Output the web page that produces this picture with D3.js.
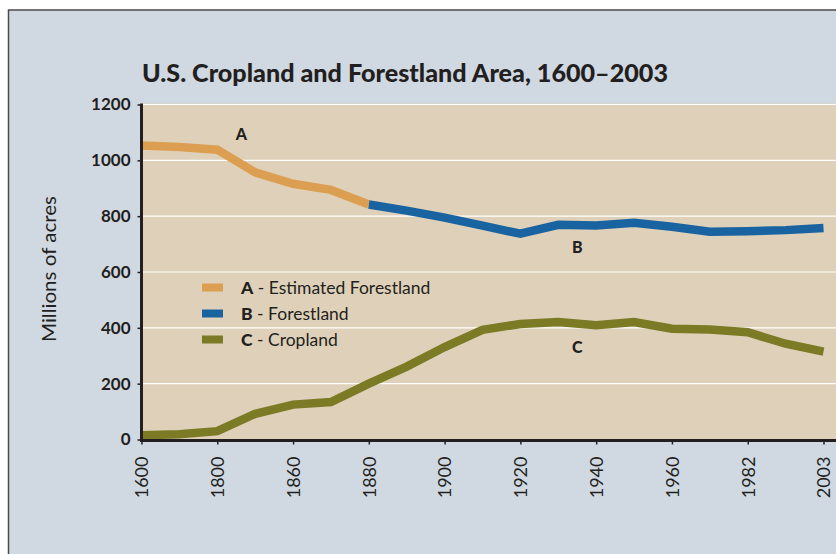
<!DOCTYPE html>
<html>
<head>
<meta charset="utf-8">
<script src="https://cdn.jsdelivr.net/npm/d3@7"></script>
<style>
  html, body { margin: 0; padding: 0; background: #ffffff; }
  svg { display: block; }
  text { font-family: Lato, "Open Sans", sans-serif; }
</style>
</head>
<body>
<svg id="chart" width="836" height="554"></svg>
<script>
// ---- data ----
const categories = ["1600","1700","1800","1850","1860","1870","1880","1890","1900","1910",
                    "1920","1930","1940","1950","1960","1970","1982","1992","2003"];
const tickLabels = ["1600","1800","1860","1880","1900","1920","1940","1960","1982","2003"];
const estimatedForestland = [1053, 1048, 1038, 957, 916, 894, 842];        // 1600–1880
const forestland = [842, 820, 795, 766, 737, 769, 767, 776, 762, 744, 746, 750, 758]; // 1880–2003
const cropland = [15, 19, 30, 92, 125, 134, 200, 261, 331, 393, 414, 421, 409, 421, 397, 394, 384, 343, 315];
const yTicks = [0, 200, 400, 600, 800, 1000, 1200];

const seriesInfo = [
  { key: "A", name: "Estimated Forestland", color: "#dc9f52" },
  { key: "B", name: "Forestland", color: "#1a63a1" },
  { key: "C", name: "Cropland", color: "#7b7a25" }
];

const svg = d3.select("#chart");
const W = 836, H = 554;

// outer panel
svg.append("rect").attr("x", 8.5).attr("y", 10).attr("width", W).attr("height", H)
  .attr("fill", "#d0d9e2").attr("stroke", "#4a4a4a").attr("stroke-width", 1.5);

const x0 = 141.5, x1 = 823.5, yTop = 103.5, y0 = 439.5;
const x = d3.scalePoint().domain(categories).range([x0, x1]);
const y = d3.scaleLinear().domain([0, 1200]).range([y0, 104.5]);

// plot background
svg.append("rect").attr("x", x0).attr("y", yTop).attr("width", W - x0).attr("height", y0 - yTop)
  .attr("fill", "#dfd1b9");

// gridlines
svg.append("g").selectAll("line").data(yTicks.filter(d => d > 0)).join("line")
  .attr("x1", x0).attr("x2", W).attr("y1", d => y(d)).attr("y2", d => y(d))
  .attr("stroke", "#ffffff").attr("stroke-width", 1.2);

// title
svg.append("text").attr("x", 142).attr("y", 82)
  .attr("font-size", 25).attr("font-weight", 900).attr("fill", "#231f20")
  .attr("textLength", 526).attr("lengthAdjust", "spacingAndGlyphs")
  .text("U.S. Cropland and Forestland Area, 1600–2003");

// y axis label
svg.append("text").attr("transform", "translate(56,269) rotate(-90)")
  .attr("text-anchor", "middle").attr("font-size", 20).attr("fill", "#231f20")
  .attr("textLength", 146).attr("lengthAdjust", "spacingAndGlyphs")
  .text("Millions of acres");

// lines
const line = d3.line().x(d => x(d.c)).y(d => y(d.v));
const estData = estimatedForestland.map((v, i) => ({ c: categories[i], v }));
const forData = forestland.map((v, i) => ({ c: categories[i + 6], v }));
const cropData = cropland.map((v, i) => ({ c: categories[i], v }));

[[cropData, seriesInfo[2].color], [estData, seriesInfo[0].color], [forData, seriesInfo[1].color]]
  .forEach(([d, col]) => {
    svg.append("path").datum(d).attr("d", line).attr("fill", "none")
      .attr("stroke", col).attr("stroke-width", 8.5).attr("stroke-linejoin", "miter");
  });

// axes
const yAxis = d3.axisLeft(y).tickValues(yTicks).tickFormat(d3.format("d")).tickSize(4).tickPadding(7);
const gy = svg.append("g").attr("transform", `translate(${x0},0)`).call(yAxis);
gy.select(".domain").attr("stroke", "#231f20").attr("stroke-width", 3)
  .attr("d", `M0,${yTop}V${y0 + 1.5}`);
gy.selectAll(".tick line").attr("stroke", "#231f20").attr("stroke-width", 1.5);
gy.selectAll(".tick text").attr("font-size", 17).attr("font-weight", 700)
  .attr("fill", "#231f20").attr("font-family", "Lato, sans-serif");

const xAxis = d3.axisBottom(x).tickValues(tickLabels).tickSize(4).tickPadding(6);
const gx = svg.append("g").attr("transform", `translate(0,${y0 + 1})`).call(xAxis);
gx.select(".domain").attr("stroke", "#231f20").attr("stroke-width", 3)
  .attr("d", `M${x0 - 1.5},0H${W}`);
gx.selectAll(".tick line").attr("stroke", "#231f20").attr("stroke-width", 1.5);
gx.selectAll(".tick text").attr("font-size", 18).attr("font-weight", 400)
  .attr("fill", "#231f20").attr("font-family", "Lato, sans-serif")
  .attr("text-anchor", "end").attr("dy", "0.35em")
  .attr("transform", "translate(0,16) rotate(-90)").attr("x", 0).attr("y", 0);

// series labels
const labels = [
  { t: "A", c: "1800", v: 1095, dx: 24 },
  { t: "B", c: "1930", v: 690, dx: 19 },
  { t: "C", c: "1930", v: 332, dx: 19 }
];
svg.append("g").selectAll("text").data(labels).join("text")
  .attr("x", d => x(d.c) + d.dx).attr("y", d => y(d.v) + 6)
  .attr("text-anchor", "middle").attr("font-size", 16).attr("font-weight", 900)
  .attr("fill", "#231f20").text(d => d.t);

// legend
const lg = svg.append("g");
seriesInfo.forEach((s, i) => {
  const yy = 287.5 + i * 26;
  lg.append("rect").attr("x", 202).attr("y", yy - 4).attr("width", 21).attr("height", 8)
    .attr("fill", s.color);
  const t = lg.append("text").attr("x", 241).attr("y", yy + 6)
    .attr("font-size", 17.5).attr("fill", "#231f20");
  t.append("tspan").attr("font-weight", 900).text(s.key);
  t.append("tspan").text(" - " + s.name);
});
</script>
</body>
</html>
